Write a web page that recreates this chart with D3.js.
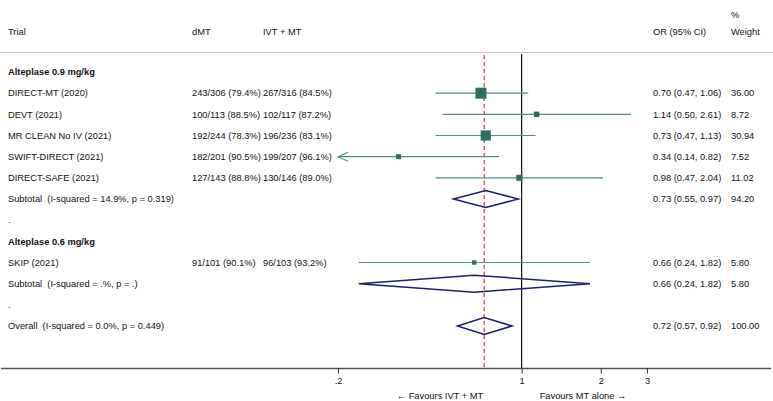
<!DOCTYPE html>
<html><head><meta charset="utf-8">
<script src="https://cdn.jsdelivr.net/npm/d3@7"></script>
<style>body{margin:0;background:#fff}svg{display:block}text{font-family:"Liberation Sans",Arial,sans-serif;font-size:9.3px;fill:#111;white-space:pre}</style>
</head><body><svg id="c" width="773" height="401"></svg>
<script>
// ---- data ----
const rowLabels = ["Alteplase 0.9 mg/kg","DIRECT-MT (2020)","DEVT (2021)","MR CLEAN No IV (2021)","SWIFT-DIRECT (2021)","DIRECT-SAFE (2021)","Subtotal  (I-squared = 14.9%, p = 0.319)",".","Alteplase 0.6 mg/kg","SKIP (2021)","Subtotal  (I-squared = .%, p = .)",".","Overall  (I-squared = 0.0%, p = 0.449)"];
const rowTypes = ["head","study","study","study","study","study","sub","blank","head","study","sub","blank","sub"];
const dMT = ["","243/306 (79.4%)","100/113 (88.5%)","192/244 (78.3%)","182/201 (90.5%)","127/143 (88.8%)","","","","91/101 (90.1%)","","",""];
const ivtMT = ["","267/316 (84.5%)","102/117 (87.2%)","196/236 (83.1%)","199/207 (96.1%)","130/146 (89.0%)","","","","96/103 (93.2%)","","",""];
const orEst = [null,0.70,1.14,0.73,0.34,0.98,0.73,null,null,0.66,0.66,null,0.72];
const ciLow = [null,0.47,0.50,0.47,0.14,0.47,0.55,null,null,0.24,0.24,null,0.57];
const ciHigh = [null,1.06,2.61,1.13,0.82,2.04,0.97,null,null,1.82,1.82,null,0.92];
const orText = ["","0.70 (0.47, 1.06)","1.14 (0.50, 2.61)","0.73 (0.47, 1.13)","0.34 (0.14, 0.82)","0.98 (0.47, 2.04)","0.73 (0.55, 0.97)","","","0.66 (0.24, 1.82)","0.66 (0.24, 1.82)","","0.72 (0.57, 0.92)"];
const weights = [null,36.00,8.72,30.94,7.52,11.02,94.20,null,null,5.80,5.80,null,100.00];
const weightText = ["","36.00","8.72","30.94","7.52","11.02","94.20","","","5.80","5.80","","100.00"];
const tickValues = [0.2,1,2,3];
const tickLabels = [".2","1","2","3"];
const overallOR = 0.72;

// ---- layout ----
const svg = d3.select("#c");
const x = d3.scaleLog().domain([0.2, 3]).range([338, 647]);
const y = d3.scaleLinear().domain([0, rowLabels.length - 1]).range([72, 326]);
const axisY = 368.5;
const teal = "#2d6e62", tealLine = "#4f8f83", navy = "#1b1f73", red = "#b8283f";

// header
svg.append("text").attr("x", 8).attr("y", 32).attr("dy", "0.35em").text("Trial");
svg.append("text").attr("x", 192).attr("y", 32).attr("dy", "0.35em").text("dMT");
svg.append("text").attr("x", 263).attr("y", 32).attr("dy", "0.35em").text("IVT + MT");
svg.append("text").attr("x", 653).attr("y", 32).attr("dy", "0.35em").text("OR (95% CI)");
svg.append("text").attr("x", 731).attr("y", 32).attr("dy", "0.35em").text("Weight");
svg.append("text").attr("x", 731).attr("y", 15).attr("dy", "0.35em").text("%");
svg.append("line").attr("x1", 0).attr("x2", 773).attr("y1", 52.5).attr("y2", 52.5).attr("stroke", "#c8c8c8").attr("stroke-width", 1);

// reference lines
svg.append("line").attr("x1", x(1)).attr("x2", x(1)).attr("y1", 54).attr("y2", axisY).attr("stroke", "#111").attr("stroke-width", 1.2);
svg.append("line").attr("x1", x(overallOR)).attr("x2", x(overallOR)).attr("y1", 55).attr("y2", axisY).attr("stroke", red).attr("stroke-width", 1.1).attr("stroke-dasharray", "4,3");

// rows
const rows = rowLabels.map((l, i) => ({i, l, t: rowTypes[i]}));
const g = svg.append("g");
rows.forEach(r => {
  const yy = y(r.i);
  g.append("text").attr("x", 8).attr("y", yy).attr("dy", "0.35em")
    .style("font-weight", r.t === "head" ? "bold" : "normal").text(r.l);
  if (dMT[r.i]) g.append("text").attr("x", 192).attr("y", yy).attr("dy", "0.35em").text(dMT[r.i]);
  if (ivtMT[r.i]) g.append("text").attr("x", 263).attr("y", yy).attr("dy", "0.35em").text(ivtMT[r.i]);
  if (orText[r.i]) g.append("text").attr("x", 653).attr("y", yy).attr("dy", "0.35em").text(orText[r.i]);
  if (weightText[r.i]) g.append("text").attr("x", 731).attr("y", yy).attr("dy", "0.35em").text(weightText[r.i]);
  if (r.t === "study") {
    const lo = Math.max(ciLow[r.i], x.domain()[0]);
    const hi = Math.min(ciHigh[r.i], x.domain()[1]);
    g.append("line").attr("x1", x(lo)).attr("x2", x(hi)).attr("y1", yy).attr("y2", yy)
      .attr("stroke", tealLine).attr("stroke-width", 1.1);
    if (ciLow[r.i] < x.domain()[0]) {
      const tx = x(lo);
      g.append("path").attr("d", `M${tx + 10},${yy - 4.5}L${tx},${yy}L${tx + 10},${yy + 4.5}`)
        .attr("fill", "none").attr("stroke", tealLine).attr("stroke-width", 1.1);
    }
    const s = 1.83 * Math.sqrt(weights[r.i]);
    g.append("rect").attr("x", x(orEst[r.i]) - s / 2).attr("y", yy - s / 2).attr("width", s).attr("height", s).attr("fill", teal);
  } else if (r.t === "sub") {
    const h = 8.5;
    g.append("path").attr("d", `M${x(ciLow[r.i])},${yy}L${x(orEst[r.i])},${yy - h}L${x(ciHigh[r.i])},${yy}L${x(orEst[r.i])},${yy + h}Z`)
      .attr("fill", "none").attr("stroke", navy).attr("stroke-width", 1.5);
  }
});

// axis
svg.append("line").attr("x1", 1).attr("x2", 771).attr("y1", axisY).attr("y2", axisY).attr("stroke", "#555").attr("stroke-width", 1.4);
const ax = svg.append("g").attr("transform", `translate(0,${axisY})`)
  .call(d3.axisBottom(x).tickValues(tickValues).tickFormat((d, i) => tickLabels[i]).tickSize(5).tickPadding(4));
ax.select(".domain").remove();
ax.selectAll(".tick line").attr("stroke", "#333");
ax.selectAll(".tick text").attr("font-family", null).attr("font-size", null).style("fill", "#111");

svg.append("text").attr("x", 440).attr("y", 396).attr("dy", "0.35em").attr("text-anchor", "middle").text("\u2190 Favours IVT + MT");
svg.append("text").attr("x", 583).attr("y", 396).attr("dy", "0.35em").attr("text-anchor", "middle").text("Favours MT alone \u2192");
</script></body></html>
